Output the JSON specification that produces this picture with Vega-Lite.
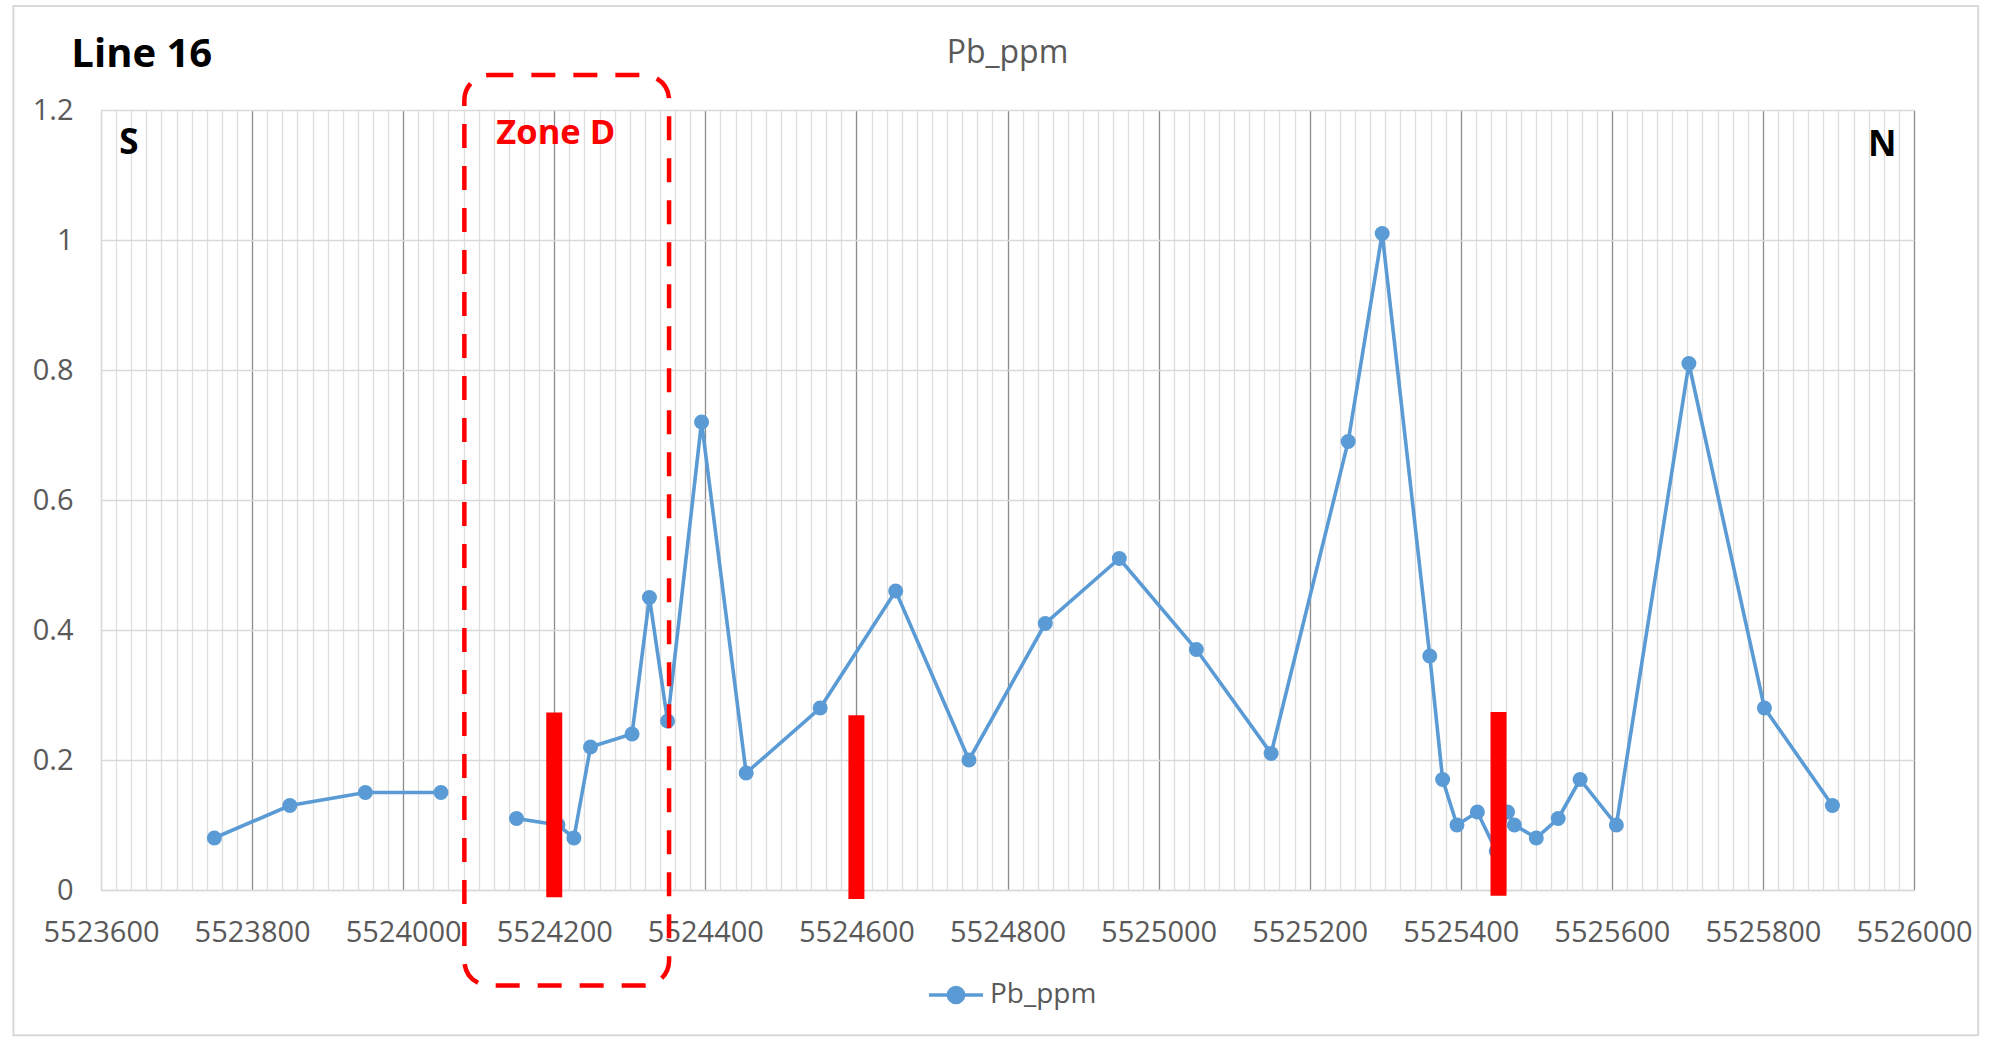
{
  "$schema": "https://vega.github.io/schema/vega-lite/v6.json",
  "width": 1813,
  "height": 780,
  "autosize": {"type": "none"},
  "padding": {"left": 101, "top": 110, "right": 79, "bottom": 147},
  "background": "white",
  "config": {"font": "Open Sans", "view": {"stroke": null}},
  "title": {"text": "Pb_ppm", "fontSize": 32, "fontWeight": "normal", "color": "#595959", "font": "Open Sans", "anchor": "middle", "offset": -65},
  "datasets": {
    "pb": [
      {"x": 5523750, "y": 0.08, "seg": 1},
      {"x": 5523850, "y": 0.13, "seg": 1},
      {"x": 5523950, "y": 0.15, "seg": 1},
      {"x": 5524050, "y": 0.15, "seg": 1},
      {"x": 5524150, "y": 0.11, "seg": 2},
      {"x": 5524205, "y": 0.10, "seg": 2},
      {"x": 5524226, "y": 0.08, "seg": 2},
      {"x": 5524248, "y": 0.22, "seg": 2},
      {"x": 5524303, "y": 0.24, "seg": 2},
      {"x": 5524326, "y": 0.45, "seg": 2},
      {"x": 5524350, "y": 0.26, "seg": 2},
      {"x": 5524395, "y": 0.72, "seg": 2},
      {"x": 5524454, "y": 0.18, "seg": 2},
      {"x": 5524552, "y": 0.28, "seg": 2},
      {"x": 5524652, "y": 0.46, "seg": 2},
      {"x": 5524749, "y": 0.20, "seg": 2},
      {"x": 5524850, "y": 0.41, "seg": 2},
      {"x": 5524948, "y": 0.51, "seg": 2},
      {"x": 5525050, "y": 0.37, "seg": 2},
      {"x": 5525149, "y": 0.21, "seg": 2},
      {"x": 5525251, "y": 0.69, "seg": 2},
      {"x": 5525296, "y": 1.01, "seg": 2},
      {"x": 5525359, "y": 0.36, "seg": 2},
      {"x": 5525376, "y": 0.17, "seg": 2},
      {"x": 5525395, "y": 0.10, "seg": 2},
      {"x": 5525422, "y": 0.12, "seg": 2},
      {"x": 5525447, "y": 0.06, "seg": 2},
      {"x": 5525462, "y": 0.12, "seg": 2},
      {"x": 5525471, "y": 0.10, "seg": 2},
      {"x": 5525500, "y": 0.08, "seg": 2},
      {"x": 5525529, "y": 0.11, "seg": 2},
      {"x": 5525558, "y": 0.17, "seg": 2},
      {"x": 5525606, "y": 0.10, "seg": 2},
      {"x": 5525702, "y": 0.81, "seg": 2},
      {"x": 5525802, "y": 0.28, "seg": 2},
      {"x": 5525892, "y": 0.13, "seg": 2}
    ],
    "bars": [
      {"x": 5524200, "y": -0.011, "y2": 0.273},
      {"x": 5524600, "y": -0.014, "y2": 0.269},
      {"x": 5525450, "y": -0.009, "y2": 0.274}
    ],
    "zone": [
      {"x": 5524081, "x2": 5524352, "y": -0.147, "y2": 1.2537}
    ],
    "frame": [
      {"x": 5523484, "x2": 5526085, "y": -0.2235, "y2": 1.36}
    ],
    "compass": [
      {"x": 5523637, "y": 1.150, "label": "S"},
      {"x": 5525958, "y": 1.146, "label": "N"}
    ],
    "zonelabel": [
      {"x": 5524202, "y": 1.1635, "label": "Zone D"}
    ],
    "linelabel": [
      {"x": 5523654, "y": 1.285, "label": "Line 16"}
    ]
  },
  "encoding": {
    "x": {
      "field": "x",
      "type": "quantitative",
      "scale": {"domain": [5523600, 5526000], "nice": false, "zero": false},
      "axis": {
        "title": null,
        "values": [5523600,5523620,5523640,5523660,5523680,5523700,5523720,5523740,5523760,5523780,5523800,5523820,5523840,5523860,5523880,5523900,5523920,5523940,5523960,5523980,5524000,5524020,5524040,5524060,5524080,5524100,5524120,5524140,5524160,5524180,5524200,5524220,5524240,5524260,5524280,5524300,5524320,5524340,5524360,5524380,5524400,5524420,5524440,5524460,5524480,5524500,5524520,5524540,5524560,5524580,5524600,5524620,5524640,5524660,5524680,5524700,5524720,5524740,5524760,5524780,5524800,5524820,5524840,5524860,5524880,5524900,5524920,5524940,5524960,5524980,5525000,5525020,5525040,5525060,5525080,5525100,5525120,5525140,5525160,5525180,5525200,5525220,5525240,5525260,5525280,5525300,5525320,5525340,5525360,5525380,5525400,5525420,5525440,5525460,5525480,5525500,5525520,5525540,5525560,5525580,5525600,5525620,5525640,5525660,5525680,5525700,5525720,5525740,5525760,5525780,5525800,5525820,5525840,5525860,5525880,5525900,5525920,5525940,5525960,5525980,5526000],
        "format": "d",
        "labelExpr": "datum.value % 200 === 0 ? datum.label : ''",
        "labelOverlap": false,
        "labelFlush": false,
        "labelFontSize": 29,
        "labelColor": "#595959",
        "labelFont": "Open Sans",
        "labelPadding": 28,
        "ticks": false,
        "domain": true,
        "domainColor": "#D9D9D9",
        "domainWidth": 1.5,
        "grid": true,
        "gridColor": {"condition": {"test": "datum.value % 200 === 0 && datum.value > 5523600", "value": "#8C8C8C"}, "value": "#DEDEDE"},
        "gridWidth": 1.3
      }
    },
    "y": {
      "field": "y",
      "type": "quantitative",
      "scale": {"domain": [0, 1.2], "nice": false},
      "axis": {
        "title": null,
        "values": [0, 0.2, 0.4, 0.6, 0.8, 1, 1.2],
        "format": "~g",
        "labelFlush": false,
        "labelFontSize": 29,
        "labelColor": "#595959",
        "labelFont": "Open Sans",
        "labelPadding": 28,
        "ticks": false,
        "domain": true,
        "domainColor": "#D9D9D9",
        "domainWidth": 1.5,
        "grid": true,
        "gridColor": "#D9D9D9",
        "gridWidth": 1.5
      }
    }
  },
  "layer": [
    {
      "data": {"name": "frame"},
      "mark": {"type": "rect", "fill": null, "stroke": "#D9D9D9", "strokeWidth": 2, "clip": false},
      "encoding": {"x2": {"field": "x2"}, "y2": {"field": "y2"}}
    },
    {
      "data": {"name": "pb"},
      "mark": {"type": "line", "strokeWidth": 3.6},
      "encoding": {
        "detail": {"field": "seg", "type": "nominal"},
        "color": {
          "datum": "Pb_ppm",
          "scale": {"range": ["#5B9BD5"]},
          "legend": {
            "title": null,
            "orient": "none",
            "legendX": 826,
            "legendY": 856,
            "padding": 0,
            "symbolType": "M-1,0L1,0M-0.28,0A0.28,0.28,0,1,1,0.28,0A0.28,0.28,0,1,1,-0.28,0Z",
            "symbolSize": 2916,
            "labelFontSize": 28,
            "labelFont": "Open Sans",
            "labelColor": "#595959",
            "labelOffset": 5,
            "encode": {"symbols": {"update": {"fill": {"value": "#5B9BD5"}, "stroke": {"value": "#5B9BD5"}, "strokeWidth": {"value": 3.6}, "opacity": {"value": 1}}}}
          }
        }
      }
    },
    {
      "data": {"name": "pb"},
      "mark": {"type": "point", "filled": true, "size": 225, "color": "#5B9BD5", "opacity": 1}
    },
    {
      "data": {"name": "bars"},
      "mark": {"type": "rule", "color": "#FF0000", "strokeWidth": 16, "strokeCap": "butt", "clip": false},
      "encoding": {"y2": {"field": "y2"}}
    },
    {
      "data": {"name": "zone"},
      "mark": {"type": "rect", "fill": null, "stroke": "#FF0000", "strokeWidth": 4.5, "strokeDash": [24, 18], "cornerRadius": 25, "clip": false},
      "encoding": {"x2": {"field": "x2"}, "y2": {"field": "y2"}}
    },
    {
      "data": {"name": "compass"},
      "mark": {"type": "text", "font": "Open Sans", "fontWeight": "bold", "fontSize": 35, "color": "#000000", "align": "center", "baseline": "middle", "clip": false},
      "encoding": {"text": {"field": "label"}}
    },
    {
      "data": {"name": "zonelabel"},
      "mark": {"type": "text", "font": "Open Sans", "fontWeight": "bold", "fontSize": 34.5, "color": "#FF0000", "align": "center", "baseline": "middle", "clip": false},
      "encoding": {"text": {"field": "label"}}
    },
    {
      "data": {"name": "linelabel"},
      "mark": {"type": "text", "font": "Open Sans", "fontWeight": "bold", "fontSize": 40, "color": "#000000", "align": "center", "baseline": "middle", "clip": false},
      "encoding": {"text": {"field": "label"}}
    }
  ]
}
